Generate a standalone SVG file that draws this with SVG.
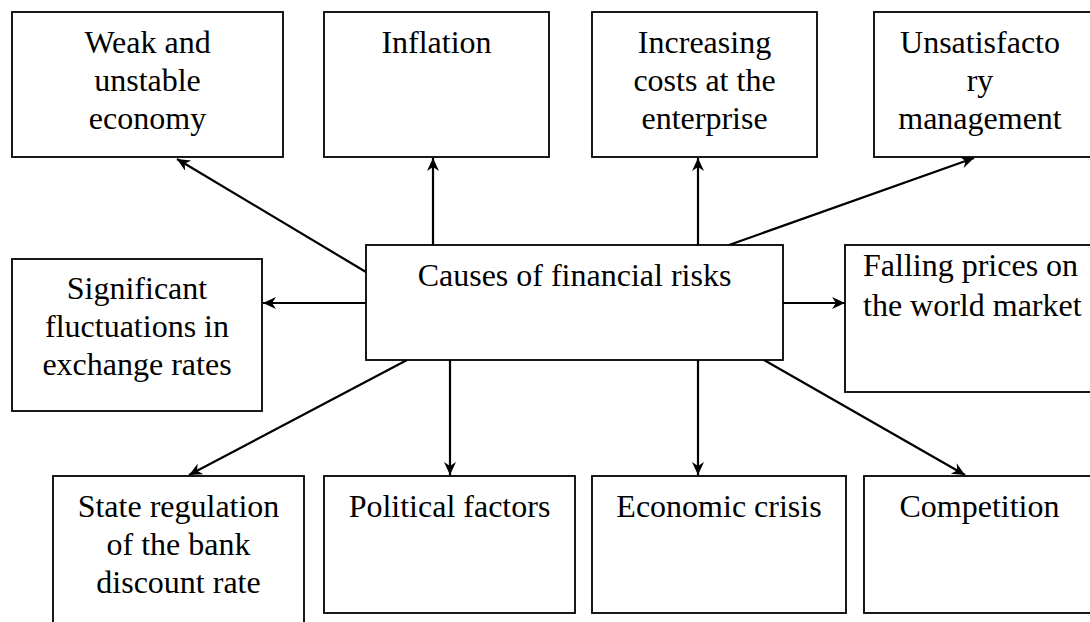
<svg xmlns="http://www.w3.org/2000/svg" width="1090" height="622" viewBox="0 0 1090 622">
<defs>
<style>
.box{fill:#fff;stroke:#000;stroke-width:1.8}
.t{font-family:"Liberation Serif","Times New Roman",serif;font-size:32px;fill:#000;text-anchor:middle}
.tl{font-family:"Liberation Serif","Times New Roman",serif;font-size:32px;fill:#000;text-anchor:start}
.c{stroke:#000;stroke-width:2.2;fill:none;marker-end:url(#ah)}
</style>
<marker id="ah" markerWidth="14" markerHeight="12" refX="13" refY="6" orient="auto" markerUnits="userSpaceOnUse" viewBox="0 0 13 12">
<path d="M0,0 L13,6 L0,12 L4,6 z" fill="#000"/>
</marker>
</defs>
<rect width="1090" height="622" fill="#fff"/>
<g id="connectors">
<line class="c" x1="366" y1="272" x2="177" y2="159"/>
<line class="c" x1="433" y1="245" x2="433" y2="158"/>
<line class="c" x1="698" y1="245" x2="698" y2="158"/>
<line class="c" x1="729" y1="245" x2="974" y2="158"/>
<line class="c" x1="366" y1="303" x2="263" y2="303"/>
<line class="c" x1="783" y1="303" x2="845" y2="303"/>
<line class="c" x1="407" y1="360" x2="189" y2="475"/>
<line class="c" x1="450" y1="360" x2="450" y2="475"/>
<line class="c" x1="698" y1="360" x2="698" y2="475"/>
<line class="c" x1="764" y1="360" x2="965" y2="475"/>
</g>
<g id="weak">
<rect class="box" x="12" y="12" width="271" height="145"/>
<text class="t" x="147.5" y="53">Weak and</text>
<text class="t" x="147.5" y="91">unstable</text>
<text class="t" x="147.5" y="129">economy</text>
</g>
<g id="inflation">
<rect class="box" x="324" y="12" width="225" height="145"/>
<text class="t" x="436.5" y="53">Inflation</text>
</g>
<g id="costs">
<rect class="box" x="592" y="12" width="225" height="145"/>
<text class="t" x="704.5" y="53">Increasing</text>
<text class="t" x="704.5" y="91">costs at the</text>
<text class="t" x="704.5" y="129">enterprise</text>
</g>
<g id="management">
<rect class="box" x="874" y="12" width="222" height="145"/>
<text class="t" x="980" y="53">Unsatisfacto</text>
<text class="t" x="980" y="91">ry</text>
<text class="t" x="980" y="129">management</text>
</g>
<g id="center">
<rect class="box" x="366" y="245" width="417" height="115"/>
<text class="t" x="574.5" y="286">Causes of financial risks</text>
</g>
<g id="exchange">
<rect class="box" x="12" y="259" width="250" height="152"/>
<text class="t" x="137" y="299">Significant</text>
<text class="t" x="137" y="337">fluctuations in</text>
<text class="t" x="137" y="375">exchange rates</text>
</g>
<g id="prices">
<rect class="box" x="845" y="245" width="250" height="147"/>
<text class="tl" x="863" y="276">Falling prices on</text>
<text class="tl" x="863" y="316">the world market</text>
</g>
<g id="state">
<rect class="box" x="53" y="476" width="251" height="170"/>
<text class="t" x="178.5" y="517">State regulation</text>
<text class="t" x="178.5" y="555">of the bank</text>
<text class="t" x="178.5" y="593">discount rate</text>
</g>
<g id="political">
<rect class="box" x="324" y="476" width="251" height="137"/>
<text class="t" x="449.5" y="517">Political factors</text>
</g>
<g id="crisis">
<rect class="box" x="592" y="476" width="254" height="137"/>
<text class="t" x="719" y="517">Economic crisis</text>
</g>
<g id="competition">
<rect class="box" x="864" y="476" width="231" height="137"/>
<text class="t" x="979.5" y="517">Competition</text>
</g>
</svg>
